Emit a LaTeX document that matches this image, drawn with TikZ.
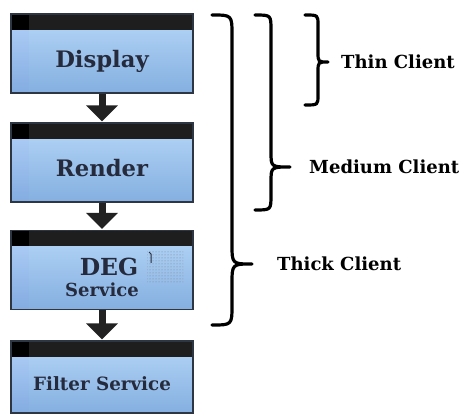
\documentclass[tikz,border=0pt]{standalone}
\usepackage{fontspec}
\setmainfont{DejaVu Serif}
\usetikzlibrary{positioning, arrows.meta, patterns}

\definecolor{boxtop}{HTML}{B6D7F8}
\definecolor{boxbottom}{HTML}{84AFE0}
\definecolor{boxline}{HTML}{2E3644}
\definecolor{boxtext}{HTML}{252A3C}
\definecolor{bandblack}{HTML}{1E1E1E}
\definecolor{arrowgray}{HTML}{222222}

% brace: end x, spine x, tip x, top y, tip y, bottom y, corner
\newcommand{\clientbrace}[7]{%
    \draw[bracepen] (#1,#4) .. controls (#2,#4) .. (#2,#4+#7) -- (#2,#5-#7)
        .. controls (#2,#5) .. (#3,#5) .. controls (#2,#5) .. (#2,#5+#7)
        -- (#2,#6-#7) .. controls (#2,#6) .. (#1,#6);}

\begin{document}
\begin{tikzpicture}[
        x=1pt, y=-1pt,
        tierbox/.style={rectangle, draw=boxline, line width=1.3pt, minimum width=182pt, minimum height=79pt,
            inner sep=0pt, top color=boxtop, bottom color=boxbottom, text=boxtext, align=center,
            font=\bfseries\fontsize{22.7}{26}\selectfont, text height=32pt, text depth=4pt,
            path picture={
                \fill[blue!50, opacity=0.06] (path picture bounding box.north west) rectangle ++(18pt,-80pt);
                \fill[bandblack] (path picture bounding box.north west) rectangle ([yshift=-16pt]path picture bounding box.north east);
                \fill[black] (path picture bounding box.north west) rectangle ++(18pt,-16pt);
            }},
        flow/.style={draw=arrowgray, line width=7pt, -{Triangle[width=31pt,length=16pt]}, shorten >=1pt},
        bracepen/.style={line width=3.2pt, line cap=round, line join=round},
        clientlabel/.style={font=\bfseries\fontsize{18}{21}\selectfont, inner sep=0pt, anchor=west}
    ]
    \useasboundingbox (0,0) rectangle (466,414);

    % ===== tiers =====
    \node (display) [tierbox] at (102,53.5) {Display};
    \node (render) [tierbox] at (102,162.5) {Render};
    \node (deg) [tierbox, text height=58pt, text depth=4pt] at (102,270)
        {\hspace*{14pt}{\fontsize{23.5}{26}\selectfont DEG}\\[-5pt]{\fontsize{18}{20}\selectfont Service}};
    \node (filter) [tierbox, minimum height=72pt, font=\bfseries\fontsize{18.3}{21}\selectfont, text height=30pt, text depth=3pt] at (102,377) {Filter Service};

    % dotted patch in the DEG box
    \fill[pattern=dots, pattern color=gray] (147,252) rectangle (183,282);
    \draw[boxtext, line width=1pt] (149,252) -- (151,254) -- (151,263);

    % ===== arrows =====
    \draw [flow] (display.south) -- (render.north);
    \draw [flow] (render.south) -- (deg.north);
    \draw [flow] (deg.south) -- (filter.north);

    % ===== braces =====
    \clientbrace{305}{318}{328}{15}{62}{105}{10}
    \clientbrace{255}{271}{290}{15}{167}{210}{15}
    \clientbrace{212}{232}{252}{15}{264}{325}{20}

    \coordinate (thintip) at (328,62);
    \coordinate (mediumtip) at (290,167);
    \coordinate (thicktip) at (252,264);
    \node (thin) [clientlabel, right=13pt of thintip] {Thin Client};
    \node (medium) [clientlabel, right=19pt of mediumtip] {Medium Client};
    \node (thick) [clientlabel, right=25pt of thicktip] {Thick Client};
\end{tikzpicture}
\end{document}
